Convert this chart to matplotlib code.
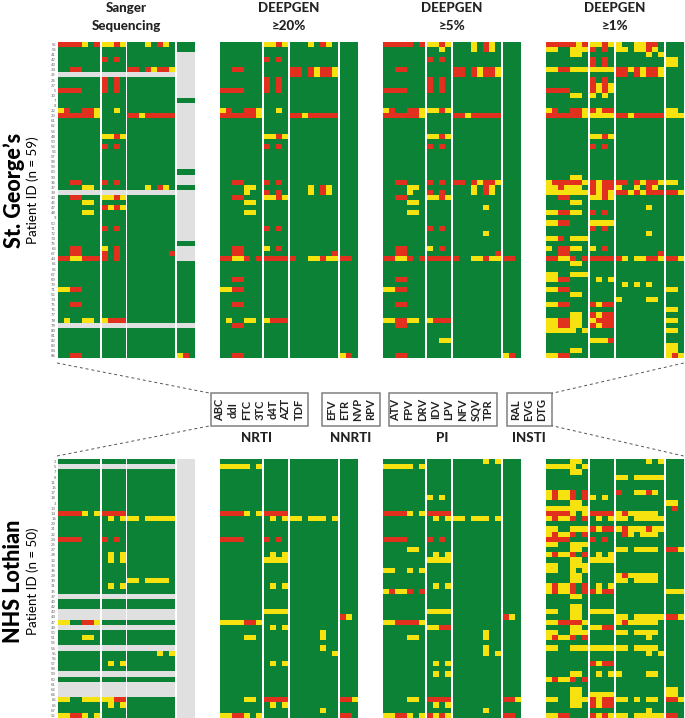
import numpy as np
import matplotlib
matplotlib.use("Agg")
import matplotlib.pyplot as plt
from matplotlib.colors import ListedColormap
from matplotlib.patches import Rectangle

plt.rcParams['font.family'] = ['Lato', 'DejaVu Sans']

W, H = 685, 718
NRTI = ["ABC", "ddI", "FTC", "3TC", "d4T", "AZT", "TDF"]
NNRTI = ["EFV", "ETR", "NVP", "RPV"]
PI = ["ATV", "FPV", "DRV", "IDV", "LPV", "NFV", "SQV", "TPR"]
INSTI = ["RAL", "EVG", "DTG"]
GROUPS = ["NRTI", "NNRTI", "PI", "INSTI"]
PANEL_TITLES = ["Sanger\nSequencing", "DEEPGEN\n\u226520%", "DEEPGEN\n\u22655%", "DEEPGEN\n\u22651%"]

SG_LABELS = ["55","56","41","42","43","24","25","26","27","5","10","7","8","22","23","61",
             "62","53","48","50","54","56","57","58","59","60","90","36","37","39","40","45",
             "47","48","9","50","71","72","74","75","66","67","44","65","66","67","69","70",
             "71","52","74","75","76","77","78","79","80","81","82","83","84","86"]
NHS_LABELS = ["2","5","7","8","11","15","17","18","3","13","14","16","20","21","22","24","25",
              "27","28","32","33","36","29","30","31","35","37","40","42","43","44","47","49",
              "50","51","53","54","55","56","57","58","59","60","61","63","64","65","66","67","52"]

GG = "GGGGGGG"
NN = "GGGG"
PP = "GGGGGGGG"
II = "GGG"

SG_GREY_ROWS = [6, 29, 55]
SG_SANGER_INSTI_TESTED = [0, 1, 11, 25, 28, 39] + list(range(43, 55)) + list(range(56, 62))
NHS_GREY_ROWS = [1, 26, 29, 30, 32, 36, 41, 43, 44, 45]
NHS_SANGER_INSTI_TESTED = []

SG_SANGER = {
    0: f"RRRRYGR YYRY GGGYGRYG {II}",
    3: f"{GG} RGRG {PP} {II}",
    5: f"GGRRGGG {NN} RRGRYRRY {II}",
    7: f"{GG} RGRG {PP} {II}",
    8: f"{GG} RGRG {PP} {II}",
    9: f"RRRRGGG RGRG {PP} {II}",
    13: f"YRGGRRY GGYG {PP} {II}",
    14: f"RRRRRRY {NN} RRYRRRRR {II}",
    18: f"{GG} YYRY {PP} {II}",
    20: f"{GG} RGRG {PP} {II}",
    27: f"GGRRGGG RGRG {PP} {II}",
    28: f"GGGGYYG {NN} GGGYGRYG {II}",
    30: f"GGRRGGG YYRY {PP} {II}",
    31: f"GGGGYYG {NN} {PP} {II}",
    32: f"{GG} RYRY {PP} {II}",
    33: f"GGGGYYG {NN} {PP} {II}",
    36: f"{GG} RGRG {PP} {II}",
    40: f"GGRRGGG YGRG {PP} {II}",
    41: f"GGRRGGG RGRG GGGGGGGR {II}",
    42: f"RRYYRRR RGRG {PP} {II}",
    48: f"YYRRGGG {NN} {PP} {II}",
    51: f"GGRRGGG {NN} {PP} {II}",
    54: f"GYGGYYG YRRR {PP} {II}",
    61: f"GGRRGGG {NN} {PP} YRG",
}

SG_20 = {
    0: f"{GG} YYRY GGGYGRYG {II}",
    3: f"{GG} RGRG {PP} {II}",
    5: f"GGRRGGG {NN} RRGRYRRY {II}",
    6: f"{GG} {NN} RRGRYRRY {II}",
    7: f"{GG} RGRG {PP} {II}",
    8: f"{GG} RGRG {PP} {II}",
    9: f"RRRRGGG RGRG {PP} {II}",
    13: f"YRGGRRY GGYG {PP} {II}",
    14: f"RRRRRRY {NN} RRYRRRRR {II}",
    18: f"{GG} YYRY {PP} {II}",
    20: f"{GG} RGRG {PP} {II}",
    27: f"GGRRGGG RGRG {PP} {II}",
    28: f"GGGGYYG {NN} GGGYGRYG {II}",
    29: f"GGGGYGG RGRG GGGYGRYG {II}",
    30: f"GGRRGGG YYRY {PP} {II}",
    31: f"GGGGYYG {NN} {PP} {II}",
    33: f"GGGGYYG {NN} {PP} {II}",
    36: f"{GG} RGRG {PP} {II}",
    40: f"GGRRGGG YGRG {PP} {II}",
    41: f"GGRRGGG {NN} GGGGGGGR {II}",
    42: f"RRYYRGR RRRR RGGYYRYY RRG",
    46: f"GGRRGGG {NN} {PP} {II}",
    48: f"YYRRGGG {NN} {PP} {II}",
    51: f"GGRRGGG {NN} {PP} {II}",
    54: f"GYGGYYG YRRR {PP} {II}",
    55: f"GGRRGGG {NN} {PP} {II}",
    61: f"GGRRGGG {NN} {PP} YRG",
}

SG_5 = {
    0: f"RRRRRGR YYRY GGGYGRYG {II}",
    1: f"{GG} GGYG GGGYGRYG {II}",
    3: f"{GG} RGRG {PP} {II}",
    5: f"GGRRGGG {NN} RRGRYRRY {II}",
    6: f"{GG} {NN} RRGRYRRY {II}",
    7: f"{GG} RGRG {PP} {II}",
    8: f"{GG} RGRG {PP} {II}",
    9: f"RRRRGGG RGRG {PP} {II}",
    13: f"YRGGRRY YYRY {PP} {II}",
    14: f"RRRRRRY {NN} RRYRRRRR {II}",
    18: f"{GG} YYRY {PP} {II}",
    20: f"{GG} RGRG {PP} {II}",
    27: f"GGRRGGG RGRG RRGRYRRY {II}",
    28: f"GGGGYYG {NN} GGGYGRYG {II}",
    29: f"GGGGYGG RGRG GGGYGRYG {II}",
    30: f"GGRRGGG YYRY {PP} {II}",
    31: f"GGGGYYG {NN} {PP} {II}",
    32: f"{GG} {NN} GGGGGYGG {II}",
    33: f"GGGGYYG {NN} {PP} {II}",
    36: f"{GG} RGRG {PP} {II}",
    37: f"{GG} {NN} GGGGGYGG {II}",
    40: f"GGRRGGG YGRG {PP} {II}",
    41: f"GGRRGGG {NN} GGGGGGGR {II}",
    42: f"RRYYRGR RRRR RGGYYRYY RRG",
    46: f"GGRRGGG {NN} {PP} {II}",
    48: f"YYRRGGG {NN} {PP} {II}",
    51: f"GGRRGGG {NN} {PP} {II}",
    54: f"YYRRYYG YRRR {PP} {II}",
    55: f"GGRRGGG {NN} {PP} {II}",
    58: f"{GG} GGYY {PP} {II}",
    61: f"GGRRGGG {NN} {PP} YRG",
}

SG_1 = {
    0: f"RRRRRYR YYRY YGGYYRRG {II}",
    1: f"YYGGYYY RGRG YYGYYRYG {II}",
    2: f"GGGGYYG {NN} GGGGGYGY {II}",
    3: f"{GG} RGRG {PP} YYG",
    4: f"{GG} RGRG {PP} YYG",
    5: f"YYRRYYY YYYY RRYRYRRY {II}",
    6: f"{GG} {NN} RRGRYRRY {II}",
    7: f"{GG} RGRG {PP} {II}",
    8: f"{GG} RYRY {PP} {II}",
    9: f"RRRRGGG RYRY {PP} {II}",
    10: f"GGGGYYG YGYG {PP} {II}",
    13: f"YRGGRRY RYRR {PP} YYG",
    14: f"RRRRRRY YYYY RRYRRRRR YYY",
    18: f"{GG} YYRY {PP} {II}",
    20: f"{GG} RGRG {PP} {II}",
    26: f"GGGGYYG {NN} {PP} {II}",
    27: f"YRRRRRY RYRR RRGRYRRY YYG",
    28: f"YYRYYYG RYRR YGGYGRYG {II}",
    29: f"YYYYYYY RYRY RRYRYRRR RRY",
    30: f"GGRRGGG YYRY {PP} {II}",
    31: f"GGGGYYG {NN} {PP} {II}",
    32: f"{GG} {NN} GGGGGYGG {II}",
    33: f"YYRRYYG RGRG {PP} {II}",
    35: f"YYRRGGG YYYY {PP} {II}",
    36: f"{GG} RGRG {PP} {II}",
    37: f"{GG} {NN} GGGGGYGG {II}",
    38: f"YYRGYYY {NN} {PP} {II}",
    40: f"YGRRYYG YGRG {PP} {II}",
    41: f"GGRRGGG {NN} GGGGGGGR {II}",
    42: f"RRYYRGR RRRR RYGYYRRY RRY",
    43: f"GGGGYYG {NN} {PP} {II}",
    45: f"YYGGYYY {NN} {PP} {II}",
    46: f"YYRRGGG GYGY {PP} {II}",
    47: f"{GG} {NN} GYGYGYGG {II}",
    48: f"YYRRGGG {NN} {PP} YYG",
    49: f"GGGGYYG {NN} {PP} {II}",
    50: f"{GG} {NN} YGGGGYYG {II}",
    51: f"YYRRGGG RYRR {PP} {II}",
    52: f"{GG} {NN} {PP} YYG",
    53: f"GGGGYYG RYRR {PP} {II}",
    54: f"YYRRYYG YRRR {PP} YYG",
    55: f"YYRRYYG RYRR {PP} {II}",
    56: f"YYYYYGY {NN} {PP} YYG",
    58: f"{GG} YYYR {PP} {II}",
    59: f"{GG} {NN} {PP} YYG",
    60: f"GGGGYYG {NN} {PP} YYG",
    61: f"YYRRGGG {NN} {PP} YRY",
}

NHS_SANGER = {
    10: f"RRRRYGY RRRR {PP} {II}",
    11: f"{GG} GYGY YYGYYYYY {II}",
    15: f"RRRRGGG RGRG {PP} {II}",
    18: f"{GG} GYGY {PP} {II}",
    19: f"{GG} GYGY {PP} {II}",
    23: f"{GG} {NN} YYGYYYYG {II}",
    24: f"{GG} GYGY {PP} {II}",
    31: f"YYGGRRY {NN} {PP} {II}",
    34: f"GGGGYYG {NN} {PP} {II}",
    37: f"{GG} {NN} GGGGGYGY {II}",
    39: f"{GG} GYGY {PP} {II}",
    46: f"YYGGYYY YYRR {PP} {II}",
    47: f"{GG} GYGY {PP} {II}",
    49: f"YYRRYGY {NN} {PP} {II}",
}

NHS_20 = {
    1: f"YYYYYGY {NN} {PP} {II}",
    10: f"RRRRYGY RRRR {PP} {II}",
    11: f"{GG} GYGY YYGYYYGY {II}",
    15: f"RRRRGGG RGRG {PP} {II}",
    18: f"{GG} GYGY {PP} {II}",
    19: f"{GG} YYYY {PP} {II}",
    24: f"{GG} GYGY {PP} {II}",
    29: f"{GG} YYYY {PP} {II}",
    30: f"{GG} {NN} {PP} RYG",
    31: f"YYYYRRY {NN} {PP} {II}",
    32: f"{GG} GYGY {PP} {II}",
    33: f"{GG} {NN} GGGGGYGG {II}",
    34: f"GGGGYYG {NN} GGGGGYGG {II}",
    36: f"{GG} {NN} GGGGGYGG {II}",
    37: f"{GG} {NN} GGGGGGGY {II}",
    39: f"{GG} GYGY {PP} {II}",
    46: f"GGGGYYG RRRR {PP} RRY",
    47: f"{GG} GYGY {PP} {II}",
    48: f"{GG} {NN} GGGGGYGG {II}",
    49: f"YYRRYGY {NN} {PP} RRG",
}

NHS_5 = {
    0: f"{GG} {NN} GGGGGYGY {II}",
    1: f"YYYYYGY {NN} {PP} {II}",
    7: f"{GG} YGYG {PP} {II}",
    10: f"RRRRYGY RRRR {PP} {II}",
    11: f"{GG} GYGY YYGYYYGY {II}",
    15: f"RRRRGGG RGRG {PP} {II}",
    17: f"GGGGYYG {NN} {PP} {II}",
    18: f"{GG} GYGY {PP} {II}",
    19: f"{GG} YYYY {PP} {II}",
    21: f"YYGGYGY {NN} {PP} {II}",
    24: f"{GG} GYGY {PP} {II}",
    25: f"YRYYRGR {NN} {PP} {II}",
    29: f"{GG} YYYY {PP} {II}",
    30: f"{GG} {NN} {PP} RYG",
    31: f"YYRRRRY {NN} {PP} {II}",
    32: f"{GG} YYRR {PP} {II}",
    33: f"{GG} {NN} GGGGGYGG {II}",
    34: f"GGGGYYG {NN} GGGGGYGG {II}",
    36: f"{GG} {NN} GGGGGYGG {II}",
    37: f"{GG} {NN} GGGGGYGY {II}",
    39: f"{GG} GYGY {PP} {II}",
    41: f"{GG} GYGY {PP} {II}",
    46: f"GGGGYYG RRRR {PP} RRY",
    47: f"{GG} GYGY {PP} {II}",
    48: f"{GG} {NN} GGGGGYGG {II}",
    49: f"YYRRYGY RYRY {PP} RRG",
}

NHS_1 = {
    0: f"GGGGYYG {NN} GGGGGYGY {II}",
    1: f"YYYYYGY {NN} {PP} {II}",
    2: f"GGGGYYG {NN} {PP} {II}",
    3: f"{GG} {NN} YYGYYYYY {II}",
    6: f"YRYYRGR {NN} RGGYYRYG {II}",
    7: f"YRYYRGR YGYG {PP} {II}",
    8: f"GGGGYYG {NN} {PP} YYG",
    9: f"YYYYYYY {NN} {PP} GRG",
    10: f"RRRRYGY RRRR YRYYYYYG {II}",
    11: f"YRYYRGR GYGY YYGYYYYY {II}",
    13: f"YYGGYYY RYRR YRYYYRYY {II}",
    14: f"YRYYRGR {NN} GRYGYYYG {II}",
    15: f"RRRRGGG RGRG {PP} {II}",
    16: f"YYGGYYY {NN} {PP} {II}",
    17: f"GGGGYYG {NN} YYGYYYYG RRY",
    18: f"YRYYRGR GYGY {PP} {II}",
    19: f"GGGGYYG YYYY {PP} {II}",
    20: f"YYGGYYY {NN} {PP} {II}",
    21: f"YYGGYGY {NN} {PP} {II}",
    22: f"GGGGYYG {NN} YRYYYYYG {II}",
    23: f"GGGGYYG {NN} YYGYYYYG {II}",
    24: f"YRYYRGR GYGY {PP} {II}",
    25: f"YRYYRGR RYRR {PP} YYY",
    26: f"GGGGYYG {NN} {PP} {II}",
    28: f"GGGGYYG {NN} {PP} {II}",
    29: f"YYGGYYG YYYY {PP} {II}",
    30: f"GGGGYYG {NN} YYGYYYYY RRY",
    31: f"YYRRRRY {NN} YRYYYYYG {II}",
    32: f"GGGGYYG YYRR {PP} {II}",
    33: f"YYGGYYY {NN} YYGYYYYG {II}",
    34: f"YRYYRGR {NN} GGGGGYGG {II}",
    36: f"YYGGYYY YYYY YYGYYYYG {II}",
    37: f"{GG} {NN} GGGGGYGY {II}",
    39: f"{GG} RYRR {PP} {II}",
    41: f"GGGGYYG GYGY YGGGGYYG {II}",
    42: f"YRYYRGR {NN} {PP} {II}",
    44: f"GGGGYYG {NN} {PP} YYG",
    45: f"GGGGYYG YYYY {PP} YYG",
    46: f"YYGGYYY RYRR YYGYGYYG RRY",
    47: f"GGGGYYG RYRR {PP} {II}",
    48: f"{GG} {NN} GGGGGYGG {II}",
    49: f"YYRRGGG RYRY YYGYYYYY RRG",
}

CODES = {"G": 0, "Y": 1, "R": 2, "N": 3}
GROUP_SIZES = [len(NRTI), len(NNRTI), len(PI), len(INSTI)]
COL_W = 6.0
GAP = (137.4 - 22 * COL_W) / 3
cmap = ListedColormap(["#0C8237", "#F5E20E", "#E1301E", "#E0E0E0"])


def build(rows, n_rows, grey_rows=(), insti_tested=None):
    arr = np.zeros((n_rows, 22), dtype=int)
    for r, s in rows.items():
        arr[r] = [CODES[c] for c in s.replace(" ", "")]
    if insti_tested is not None:
        for r in range(n_rows):
            if r not in insti_tested:
                arr[r, 19:] = 3
    for r in grey_rows:
        arr[r] = 3
    return arr


fig = plt.figure(figsize=(W / 100, H / 100), dpi=100)
fig.patch.set_facecolor("white")


def draw_panel(arr, left, top, height, labels=None):
    ax = fig.add_axes([left / W, 1 - (top + height) / H, 137.4 / W, height / H])
    n = arr.shape[0]
    x, c = 0.0, 0
    for size in GROUP_SIZES:
        edges = x + np.arange(size + 1) * COL_W
        ax.pcolormesh(edges, np.arange(n + 1), arr[:, c:c + size], cmap=cmap,
                      vmin=-0.5, vmax=3.5, shading="flat", linewidth=0, rasterized=True)
        x += size * COL_W + GAP
        c += size
    ax.set_xlim(0, 137.4)
    ax.set_ylim(n, 0)
    ax.set_xticks([])
    for s in ax.spines.values():
        s.set_visible(False)
    if labels is None:
        ax.set_yticks([])
    else:
        ax.set_yticks(np.arange(n) + 0.5)
        ax.set_yticklabels(labels, fontsize=2.8, color="#666666", family="DejaVu Sans")
        ax.tick_params(axis="y", length=0, pad=1.2)
    return ax


PANEL_X = [57.7, 220.3, 383.3, 546.3]
TOP_Y, TOP_H = 41.7, 316.7
BOT_Y, BOT_H = 459.0, 259.0

top_data = [build(SG_SANGER, 62, SG_GREY_ROWS, SG_SANGER_INSTI_TESTED), build(SG_20, 62),
            build(SG_5, 62), build(SG_1, 62)]
bot_data = [build(NHS_SANGER, 50, NHS_GREY_ROWS, NHS_SANGER_INSTI_TESTED), build(NHS_20, 50),
            build(NHS_5, 50), build(NHS_1, 50)]
for i in range(4):
    draw_panel(top_data[i], PANEL_X[i], TOP_Y, TOP_H, SG_LABELS if i == 0 else None)
    draw_panel(bot_data[i], PANEL_X[i], BOT_Y, BOT_H, NHS_LABELS if i == 0 else None)

ov = fig.add_axes([0, 0, 1, 1], zorder=5)
ov.set_xlim(0, W)
ov.set_ylim(H, 0)
ov.axis("off")
ov.patch.set_alpha(0)

HEAVY = 900
for cx, t in zip([126, 289, 452, 615], PANEL_TITLES):
    l1, l2 = t.split("\n")
    ov.text(cx, 8, l1, ha="center", va="center", fontsize=9.6, fontweight=HEAVY, color="#222222")
    ov.text(cx, 26, l2, ha="center", va="center", fontsize=9.6, fontweight=HEAVY, color="#222222")

ov.text(14, 190, "St. George\u2019s", rotation=90, ha="center", va="center", fontsize=15.5, fontweight=HEAVY, color="black")
ov.text(33, 190, "Patient ID (n = 59)", rotation=90, ha="center", va="center", fontsize=9.6, color="black")
ov.text(14, 581, "NHS Lothian", rotation=90, ha="center", va="center", fontsize=15.5, fontweight=HEAVY, color="black")
ov.text(33, 581, "Patient ID (n = 50)", rotation=90, ha="center", va="center", fontsize=9.6, color="black")

BOX_EDGES = [(210.7, 307.7), (322.3, 380.0), (389.0, 497.3), (507.3, 552.0)]
BOX_LABELS = [NRTI, NNRTI, PI, INSTI]
BOX_CX = [[60, 99, 139, 179, 218, 258, 298], [395, 433, 473, 513],
          [587, 627, 667, 707, 747, 787, 827, 866], [946, 986, 1026]]
GROUP_CX = [257, 351, 441.7, 529]
for (x0, x1), labs, cxs, gname, gx in zip(BOX_EDGES, BOX_LABELS, BOX_CX, GROUPS, GROUP_CX):
    ov.add_patch(Rectangle((x0, 393.3), x1 - x0, 32.4, fill=False, edgecolor="#808080", linewidth=1.1))
    for lab, c in zip(labs, cxs):
        ov.text(200 + c / 3, 409.5, lab, rotation=90, ha="center", va="center", fontsize=8.0, fontweight="bold", color="#222222")
    ov.text(gx, 438.5, gname, ha="center", va="center", fontsize=9.6, fontweight=HEAVY, color="#222222")

for (xa, ya, xb, yb) in [(57, 363, 210.7, 393.3), (683.7, 363, 552, 393.3),
                         (57, 456, 210.7, 425.7), (683.7, 456, 552, 425.7)]:
    ov.plot([xa, xb], [ya, yb], color="#555555", linewidth=0.7, linestyle=(0, (3, 3)))

fig.savefig("out.png", dpi=100, facecolor="white")
